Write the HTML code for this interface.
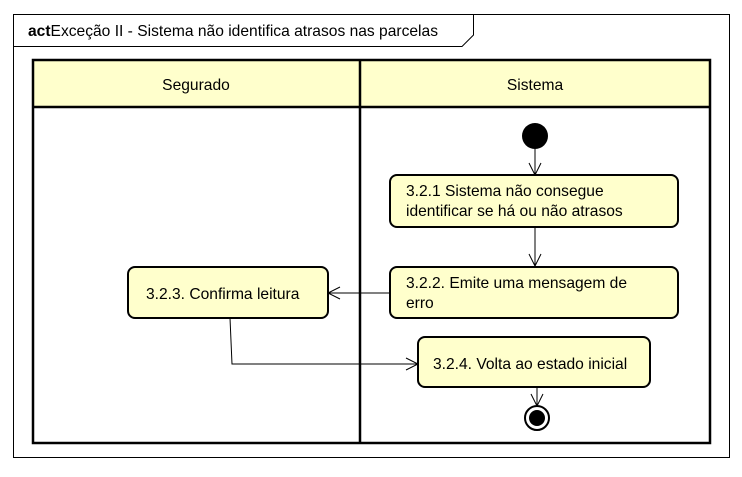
<!DOCTYPE html>
<html><head><meta charset="utf-8"><style>
body{margin:0;background:#fff;}
svg text{font-family:"Liberation Sans",sans-serif;font-size:15.6px;fill:#000;}
</style></head><body>
<svg width="742" height="472" xmlns="http://www.w3.org/2000/svg">
<rect x="13.5" y="14.5" width="716" height="443" fill="#fff" stroke="#000" stroke-width="1"/>
<path d="M13.5 46.5 H462 L473.5 35 V14.5" fill="none" stroke="#000" stroke-width="1"/>
<text x="28" y="36"><tspan font-weight="bold">act</tspan>Exceção II - Sistema não identifica atrasos nas parcelas</text>
<rect x="33" y="60" width="677" height="47" fill="#ffffcc" stroke="none"/>
<rect x="33" y="60" width="677" height="383" fill="none" stroke="#000" stroke-width="2.5"/>
<line x1="33" y1="107" x2="710" y2="107" stroke="#000" stroke-width="2.5"/>
<line x1="360" y1="60" x2="360" y2="443" stroke="#000" stroke-width="2.5"/>
<text x="196" y="90" text-anchor="middle">Segurado</text>
<text x="535" y="90" text-anchor="middle">Sistema</text>
<circle cx="535" cy="136" r="13" fill="#000"/>
<g stroke="#000" stroke-width="1" fill="none">
<line x1="535" y1="149" x2="535" y2="175"/><path d="M529 163 L535 175 L541 163"/>
<line x1="535" y1="227" x2="535" y2="266"/><path d="M529 254 L535 266 L541 254"/>
<line x1="390" y1="293" x2="328" y2="293"/><path d="M340 287 L328 293 L340 299"/>
<path d="M230 318 L232 364 L418 364"/><path d="M406 358 L418 364 L406 370"/>
<line x1="537" y1="387" x2="537" y2="406"/><path d="M531 394 L537 406 L543 394"/>
</g>
<g fill="#ffffcc" stroke="#000" stroke-width="2">
<rect x="390" y="175" width="288" height="52" rx="7"/>
<rect x="390" y="267" width="288" height="51" rx="7"/>
<rect x="128" y="267" width="200" height="51" rx="7"/>
<rect x="418" y="337" width="232" height="50" rx="7"/>
</g>
<circle cx="537" cy="418" r="12" fill="#fff" stroke="#000" stroke-width="2"/>
<circle cx="537" cy="418" r="8" fill="#000"/>
<text x="406" y="196">3.2.1 Sistema não consegue</text>
<text x="406" y="216">identificar se há ou não atrasos</text>
<text x="406" y="288">3.2.2. Emite uma mensagem de</text>
<text x="406" y="308">erro</text>
<text x="146" y="299">3.2.3. Confirma leitura</text>
<text x="433" y="369">3.2.4. Volta ao estado inicial</text>
</svg>
</body></html>
